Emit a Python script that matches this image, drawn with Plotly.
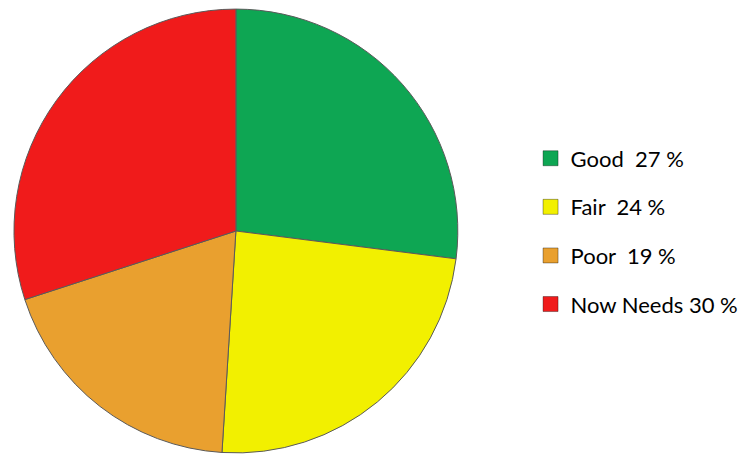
import plotly.graph_objects as go

# chart data
labels = ['Good', 'Fair', 'Poor', 'Now Needs']
values = [27, 24, 19, 30]
legend_text = ['Good\u00a0 27 %', 'Fair\u00a0 24 %', 'Poor\u00a0 19 %', 'Now Needs 30 %']
colors = ['#0ea653', '#f2f000', '#e9a02f', '#f01b1b']

fig = go.Figure()

fig.add_trace(go.Pie(
    labels=labels, values=values,
    sort=False, direction='clockwise', rotation=0,
    marker=dict(colors=colors, line=dict(color='#5a5a5a', width=1)),
    textinfo='none', hoverinfo='label+percent',
    showlegend=False,
    domain=dict(x=[0.0079, 0.595], y=[0.0241, 0.9978]),
))

# legend entries drawn as dummy square markers
for name, col in zip(legend_text, colors):
    fig.add_trace(go.Scatter(
        x=[None], y=[None], mode='markers', name=name,
        legendgroup=name,
        marker=dict(symbol='square', size=15, color=col,
                    line=dict(color='rgba(0,0,0,0.35)', width=1)),
    ))

fig.update_layout(
    width=756, height=456,
    margin=dict(l=0, r=0, t=0, b=0),
    paper_bgcolor='white', plot_bgcolor='white',
    xaxis=dict(visible=False), yaxis=dict(visible=False),
    font=dict(family='Lato', color='black'),
    legend=dict(
        x=0.6912, y=0.51, xanchor='left', yanchor='middle',
        font=dict(family='Lato', size=22, color='black'),
        tracegroupgap=17, itemwidth=30,
        bgcolor='rgba(0,0,0,0)',
    ),
    showlegend=True,
)

fig.write_html("out.html")
